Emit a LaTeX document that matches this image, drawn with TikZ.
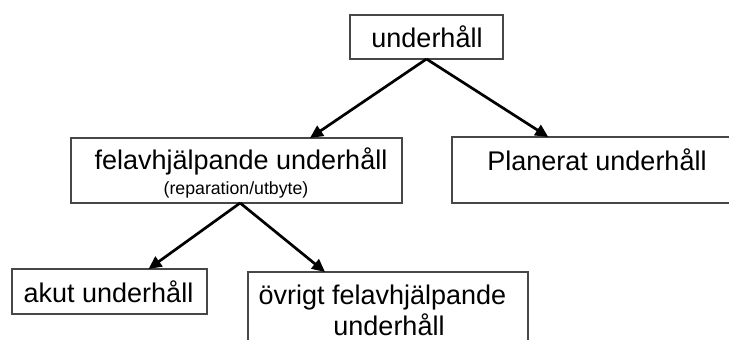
\documentclass[tikz,border=0pt]{standalone}
\usepackage{fontspec}
\setmainfont{Liberation Sans}
\usetikzlibrary{arrows.meta,calc}
\begin{document}
\begin{tikzpicture}[x=1pt,y=-1pt,
  box/.style={draw=black!72,line width=1.1pt,rectangle,inner sep=0pt,outer sep=0pt},
  big/.style={font=\fontsize{27}{32}\selectfont,inner sep=0pt,anchor=base},
  small/.style={font=\fontsize{17.7}{20}\selectfont,inner sep=0pt,anchor=base},
  arr/.style={line width=2.7pt,-{Triangle[length=13pt,width=12pt]}}]
\useasboundingbox (0,0) rectangle (729,340);
\fill[white] (0,0) rectangle (729,340);
% boxes
\node[box,minimum width=153,minimum height=44] (top) at (426.5,37) {};
\node[box,minimum width=331,minimum height=65] (felav) at (236.5,170.5) {};
\node[box,minimum width=280,minimum height=66] (plan) at (592,170) {};
\node[box,minimum width=195,minimum height=45] (akut) at (109.5,291.5) {};
\node[box,minimum width=280,minimum height=73] (ovr) at (388,308.5) {};
% texts
\node[big] (ttop) at (427,47) {underhåll};
\node[big] (tfelav) at (241,169) {felavhjälpande underhåll};
\node[small] (tfelav2) at (236,194) {(reparation/utbyte)};
\node[big] (tplan) at (597,170) {Planerat underhåll};
\node[big] (takut) at (108.5,302) {akut underhåll};
\node[big] (tovr1) at (382.5,304) {övrigt felavhjälpande};
\node[big] (tovr2) at (389,335) {underhåll};
% connectors
\coordinate (f1) at ($(felav.north west)!0.722!(felav.north east)$);
\coordinate (p1) at ($(plan.north west)!0.344!(plan.north east)$);
\coordinate (fs) at ($(felav.south west)!0.511!(felav.south east)$);
\coordinate (a1) at ($(akut.north west)!0.70!(akut.north east)$);
\coordinate (o1) at ($(ovr.north west)!0.275!(ovr.north east)$);
\draw[arr] (top.south) -- (f1);
\draw[arr] (top.south) -- (p1);
\draw[arr] (fs) -- (a1);
\draw[arr] (fs) -- (o1);
\end{tikzpicture}
\end{document}
